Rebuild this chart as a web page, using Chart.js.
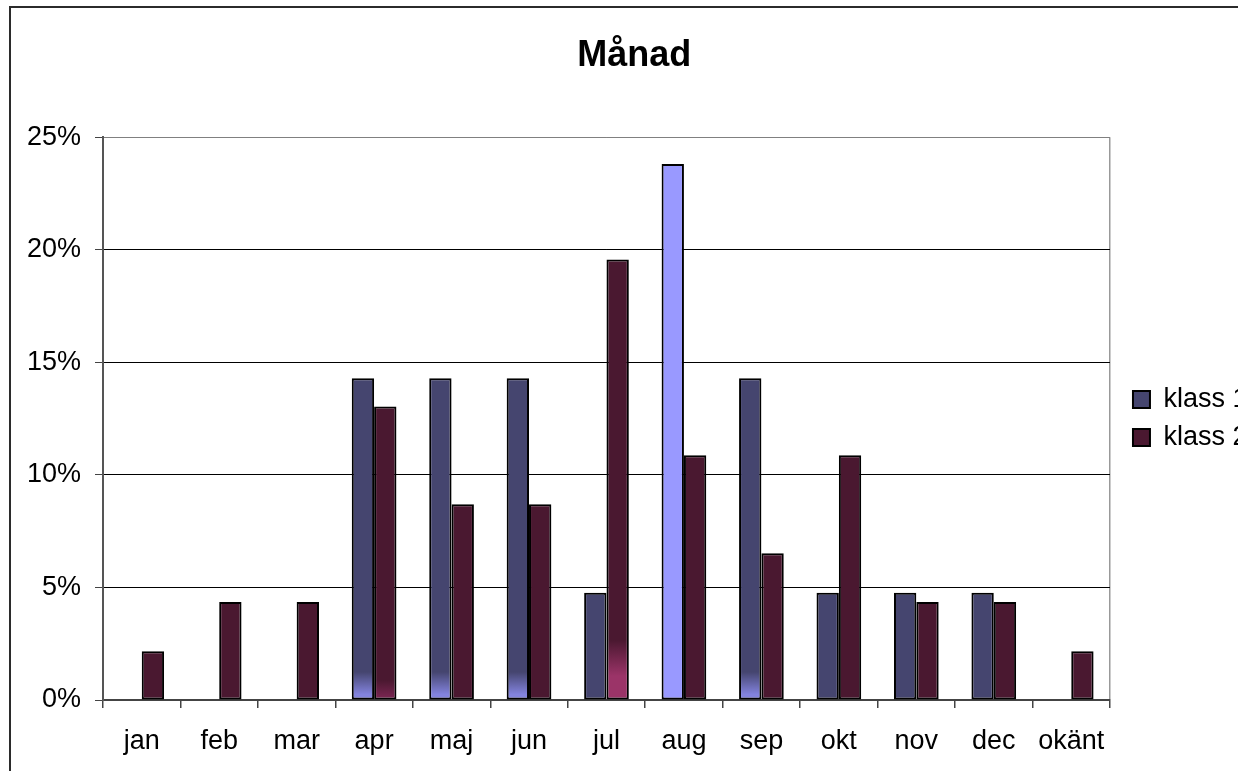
<!DOCTYPE html>
<html>
<head>
<meta charset="utf-8">
<script src="https://cdn.jsdelivr.net/npm/chart.js@4"></script>
<style>
  html, body { margin: 0; padding: 0; background: #fff; overflow: hidden; width: 1238px; height: 771px; }
  #ram { position: absolute; left: 9px; top: 6px; width: 1250px; height: 790px; border: 2px solid #2b2b2b; }
</style>
</head>
<body>
<div id="ram"><canvas id="manad"></canvas></div>
<script>
// kategorier och andelar (procent av resp. klass)
const manader = ["jan", "feb", "mar", "apr", "maj", "jun", "jul", "aug", "sep", "okt", "nov", "dec", "okänt"];
const klass1 = [0, 0, 0, 14.29, 14.29, 14.29, 4.76, 23.81, 14.29, 4.76, 4.76, 4.76, 0];
const klass2 = [2.17, 4.35, 4.35, 13.04, 8.70, 8.70, 19.57, 10.87, 6.52, 10.87, 4.35, 4.35, 2.17];
const yMax = 25;
const ySteg = 5;

// färger
const farg1 = "#45456f";
const farg2 = "#4a1830";
const egen1 = { 7: "#9999ff" }; // aug sticker ut
const egen2 = {};
// ljusare nederkant: index -> [höjd px, färg, andel helt ljus]
const tona1 = { 3: [28, "#8383de", 0.2], 4: [28, "#8383de", 0.2], 5: [28, "#8383de", 0.2], 8: [28, "#8383de", 0.2] };
const tona2 = { 3: [20, "#7a2652", 0.1], 6: [60, "#9b3468", 0.4] };

const typsnitt = "'Liberation Sans', Arial, sans-serif";

function fyllning(bas, egen, tona) {
  return function (c) {
    if (c.type !== "data") return bas;
    if (egen[c.dataIndex]) return egen[c.dataIndex];
    const t = tona[c.dataIndex];
    if (!t || !c.chart.chartArea) return bas;
    const y0 = c.chart.scales.y.getPixelForValue(0);
    const g = c.chart.ctx.createLinearGradient(0, y0, 0, y0 - t[0]);
    g.addColorStop(0, t[1]);
    g.addColorStop(t[2], t[1]);
    g.addColorStop(1, bas);
    return g;
  };
}

const data = {
  labels: manader,
  datasets: [
    {
      label: "klass 1",
      data: klass1,
      backgroundColor: fyllning(farg1, egen1, tona1),
      borderColor: "#000",
      borderWidth: 2,
      borderSkipped: false,
    },
    {
      label: "klass 2",
      data: klass2,
      backgroundColor: fyllning(farg2, egen2, tona2),
      borderColor: "#000",
      borderWidth: 2,
      borderSkipped: false,
    },
  ],
};

const config = {
  type: "bar",
  data: data,
  options: {
    responsive: true,
    maintainAspectRatio: false,
    animation: false,
    datasets: {
      bar: { barPercentage: 1, categoryPercentage: 0.577 },
    },
    layout: { padding: { left: 0, right: 3.5, top: 0, bottom: 0 } },
    plugins: {
      title: {
        display: true,
        text: "Månad",
        color: "#000",
        font: { family: typsnitt, size: 36, weight: "bold" },
        padding: { top: 26, bottom: 60 },
      },
      legend: {
        position: "right",
        fullSize: false,
        labels: {
          color: "#000",
          font: { family: typsnitt, size: 27 },
          boxWidth: 17,
          boxHeight: 17,
          padding: 11,
        },
      },
      tooltip: { enabled: false },
    },
    scales: {
      x: {
        grid: {
          offset: true,
          drawOnChartArea: true,
          // bara högerkanten av ritytan syns
          color: (c) => (c.type === "scale" ? "#999" : "rgba(0,0,0,0)"),
          lineWidth: 1.5,
          tickColor: "#444",
          tickLength: 8,
        },
        border: { display: true, color: "#444", width: 2 },
        ticks: {
          color: "#000",
          font: { family: typsnitt, size: 27 },
          padding: 17,
          maxRotation: 0,
          autoSkip: false,
        },
        afterFit: (s) => { s.height = 98; },
      },
      y: {
        min: 0,
        max: yMax,
        ticks: {
          stepSize: ySteg,
          color: "#000",
          font: { family: typsnitt, size: 27 },
          padding: 14,
          callback: (v) => v + "%",
        },
        grid: {
          color: (c) => (c.tick && c.tick.value === yMax ? "#808080" : "#000"),
          lineWidth: 1,
          tickColor: "#444",
          tickLength: 8,
        },
        border: { display: true, color: "#555", width: 2 },
        afterFit: (s) => { s.width = 92; },
      },
      // tom axel som ger luft mellan ritytan och förklaringen
      luft: {
        position: "right",
        display: true,
        grid: { display: false },
        ticks: { display: false },
        border: { display: false },
        afterFit: (s) => { s.width = 12; },
      },
    },
  },
};

let context = document.getElementById("manad").getContext("2d");
let chart = new Chart(context, config);
</script>
</body>
</html>
